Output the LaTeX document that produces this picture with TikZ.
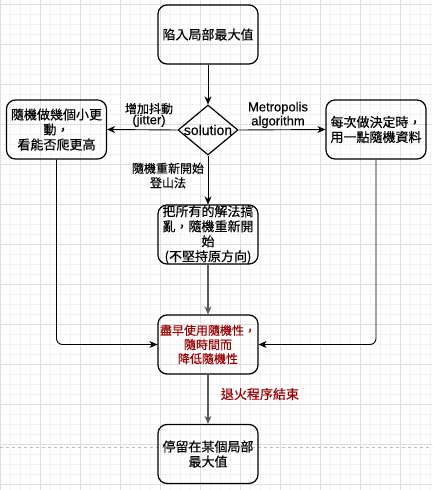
\documentclass[tikz,border=0pt]{standalone}
\usepackage{fontspec}
\setmainfont{Liberation Sans}[FakeBold=0.3]
\newfontfamily\cjk{Noto Sans CJK TC}[FakeBold=0.4]
\usetikzlibrary{shapes.geometric,arrows.meta}
\definecolor{minorgrid}{RGB}{242,242,242}
\definecolor{majorgrid}{RGB}{222,222,222}
\definecolor{pageline}{RGB}{190,190,190}
\definecolor{darkred}{RGB}{153,0,0}
\definecolor{grayline}{RGB}{90,90,90}
\tikzset{
  box/.style={draw=black, line width=1.2pt, rounded corners=9pt, minimum width=100pt, minimum height=59pt, inner sep=0pt, align=center, font=\cjk\fontsize{13}{15}\selectfont},
  conn/.style={draw=black, line width=0.9pt, -{Stealth[length=8pt,width=7pt,inset=2.5pt]}},
  grayconn/.style={draw=grayline, line width=1.2pt, -{Stealth[length=8pt,width=7pt,inset=2.5pt]}},
  elabel/.style={align=center, inner sep=0pt, font=\cjk\fontsize{12}{14.5}\selectfont},
  latlabel/.style={align=center, inner sep=0pt, font=\fontsize{13}{14}\selectfont},
  minorln/.style={draw=minorgrid, line width=0.6pt},
  majorln/.style={draw=majorgrid, line width=0.8pt}
}
\begin{document}
\begin{tikzpicture}[x=1pt,y=-1pt]
\useasboundingbox (0,0) rectangle (432,490);
\fill[white] (0,0) rectangle (432,490);
% grid
\foreach \x in {0.5,10.5,...,432} \draw[minorln] (\x,0) -- (\x,490);
\foreach \y in {4.5,14.5,...,490} \draw[minorln] (0,\y) -- (432,\y);
\foreach \x in {0.5,40.5,...,432} \draw[majorln] (\x,0) -- (\x,490);
\foreach \y in {4.5,44.5,...,490} \draw[majorln] (0,\y) -- (432,\y);
\draw[pageline, line width=0.8pt, dash pattern=on 3pt off 3pt] (0,447) -- (432,447);

% nodes
\node[box] (top) at (208,34.5) {陷入局部最大值};
\node[draw=black, line width=1.2pt, diamond, minimum width=60pt, minimum height=50pt, inner sep=0pt] (dia) at (208,130) {};
\node[inner sep=0pt, font=\fontsize{14}{16}\selectfont] (diatext) at (dia) {solution};
\node[box] (left) at (56.5,129.5) {隨機做幾個小更\\動，\\看能否爬更高};
\node[box] (right) at (376,129.5) {每次做決定時，\\用一點隨機資料};
\node[box] (mid) at (208,234.5) {把所有的解法搞\\亂，隨機重新開\\始\\(不堅持原方向)};
\node[box, text=darkred, font=\cjk\fontsize{12}{14.2}\selectfont] (red) at (208,344.5) {盡早使用隨機性，\\隨時間而\\降低隨機性};
\node[box] (bot) at (208,454) {停留在某個局部\\最大值};

% labels
\node[align=center, inner sep=0pt] (lj) at (149,115) {{\cjk\fontsize{12}{14}\selectfont 增加抖動}\\[-1pt]{\fontsize{13}{14}\selectfont (jitter)}};
\node[latlabel] (lm) at (278,115) {Metropolis\\algorithm};
\node[elabel] (lr) at (168,175.5) {隨機重新開始\\登山法};
\node[elabel, text=darkred, font=\cjk\fontsize{13}{15}\selectfont] (le) at (260,394) {退火程序結束};

% connectors
\draw[conn] (top.south) -- (dia.north);
\draw[conn] (dia.west) -- (left.east);
\draw[conn] (dia.east) -- (right.west);
\draw[conn] (dia.south) -- (mid.north);
\draw[grayconn] (mid.south) -- (red.north);
\draw[conn, rounded corners=6pt] (left.south) |- (red.west);
\draw[conn, rounded corners=6pt] (right.south) |- (red.east);
\draw[grayconn] (red.south) -- (bot.north);
\end{tikzpicture}
\end{document}
